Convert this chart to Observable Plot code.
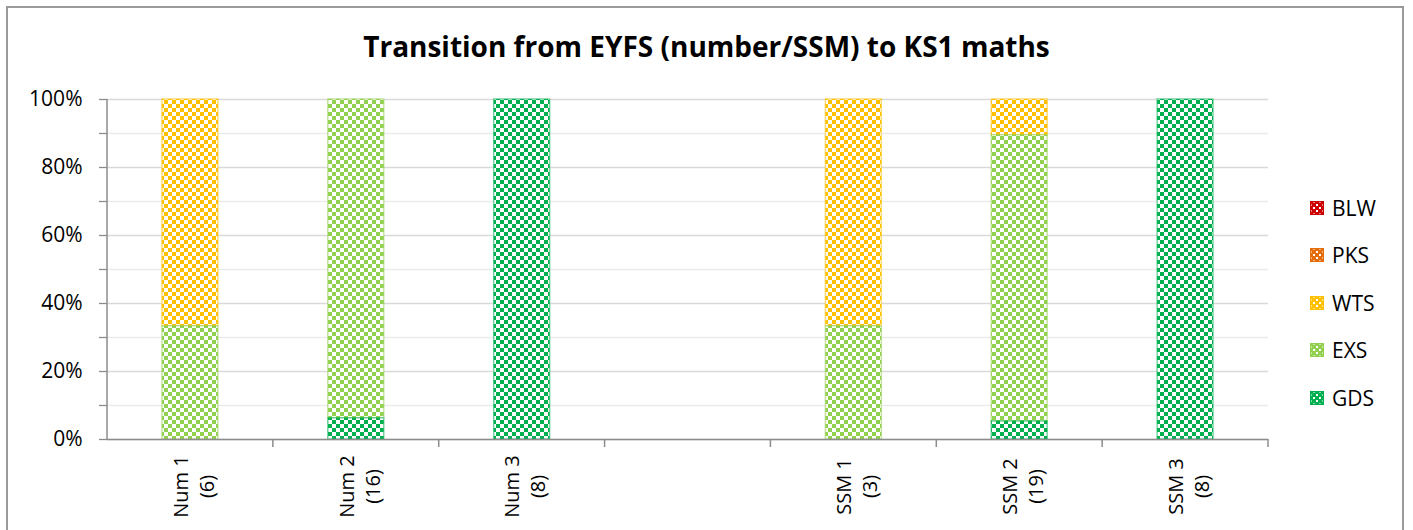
<!DOCTYPE html>
<html><head><meta charset="utf-8">
<script src="https://cdn.jsdelivr.net/npm/d3@7"></script>
<script src="https://cdn.jsdelivr.net/npm/@observablehq/plot@0.6"></script>
<style>
body{margin:0;background:#fff;font-family:"Open Sans",sans-serif;}
#wrap{position:relative;width:1413px;height:530px;overflow:hidden;background:#fff;}
#border{position:absolute;left:6px;top:6px;width:1398px;height:580px;border:2px solid #9a9a9a;box-sizing:border-box;pointer-events:none;}
#title{height:80px;box-sizing:border-box;padding-top:32px;line-height:28px;font-size:28px;font-weight:700;text-align:center;color:#000;}
#legend{position:absolute;left:1310px;top:0;width:100px;height:530px;}
.item{position:absolute;left:0;height:24px;display:flex;align-items:center;white-space:nowrap;font-size:21px;color:#000;}
.item svg{margin-right:8px;}
#defs{position:absolute;width:0;height:0;overflow:hidden;}
</style></head><body>
<div id="wrap">
  <svg id="defs" width="0" height="0"></svg>
  <div id="title">Transition from EYFS (number/SSM) to KS1 maths</div>
  <div id="chart"></div>
  <div id="legend"></div>
  <div id="border"></div>
</div>
<script>
// ---- data ----
const categories = ["Num 1", "Num 2", "Num 3", "gap", "SSM 1", "SSM 2", "SSM 3"];
const categoryLabels = ["Num 1", "Num 2", "Num 3", "", "SSM 1", "SSM 2", "SSM 3"];
const pupilCounts = ["(6)", "(16)", "(8)", "", "(3)", "(19)", "(8)"];
const levels = ["BLW", "PKS", "WTS", "EXS", "GDS"];
const levelColors = ["#CC0000", "#E46C0A", "#FFC000", "#92D050", "#00B050"];
const stackOrder = ["GDS", "EXS", "WTS", "PKS", "BLW"];
const blw = [0, 0, 0, null, 0, 0, 0];
const pks = [0, 0, 0, null, 0, 0, 0];
const wts = [66.7, 0, 0, null, 66.7, 10.5, 0];
const exs = [33.3, 93.75, 0, null, 33.3, 84.2, 0];
const gds = [0, 6.25, 100, null, 0, 5.3, 100];
const yTicks = [0, 20, 40, 60, 80, 100];
const yMinorTicks = [10, 30, 50, 70, 90];

const seriesByLevel = {BLW: blw, PKS: pks, WTS: wts, EXS: exs, GDS: gds};
const colorOf = Object.fromEntries(levels.map((l, i) => [l, levelColors[i]]));

// ---- patterns (checkerboard) ----
const defs = d3.select("#defs").append("defs");
levels.forEach(l => {
  const p = defs.append("pattern").attr("id", "pat-" + l).attr("patternUnits", "userSpaceOnUse")
    .attr("width", 8).attr("height", 8);
  p.append("rect").attr("width", 8).attr("height", 8).attr("fill", colorOf[l]);
  p.append("rect").attr("x", 4).attr("y", 0).attr("width", 4).attr("height", 4).attr("fill", "#fff");
  p.append("rect").attr("x", 0).attr("y", 4).attr("width", 4).attr("height", 4).attr("fill", "#fff");
  const q = defs.append("pattern").attr("id", "sw-" + l).attr("patternUnits", "userSpaceOnUse")
    .attr("width", 6).attr("height", 6);
  q.append("rect").attr("width", 6).attr("height", 6).attr("fill", colorOf[l]);
  q.append("rect").attr("x", 3).attr("y", 0).attr("width", 2).attr("height", 2).attr("fill", "#fff");
  q.append("rect").attr("x", 0).attr("y", 3).attr("width", 2).attr("height", 2).attr("fill", "#fff");
});

// ---- table ----
const table = [];
levels.forEach(l => categories.forEach((c, i) => {
  const v = seriesByLevel[l][i];
  if (v != null && v > 0) table.push({cat: c, level: l, value: v});
}));
const labelData = categories.map((c, i) => ({cat: c, name: categoryLabels[i], count: pupilCounts[i]}))
  .filter(d => d.name !== "");

const axisColor = "#8c8c8c";

const frameLines = (index, scales, values, dims) => {
  const x = scales.x, y = scales.y;
  const bw = x.bandwidth ? x.bandwidth() : 0;
  const c0 = x(categories[0]) + bw / 2, c1 = x(categories[1]) + bw / 2;
  const step = c1 - c0;
  const y0 = y(0), yTop = y(100);
  const left = dims.marginLeft;
  const g = d3.create("svg:g").attr("stroke", axisColor).attr("stroke-width", 1.5).attr("fill", "none");
  g.append("line").attr("x1", left).attr("x2", left).attr("y1", yTop).attr("y2", y0);
  categories.forEach(c => {
    const b = x(c) + bw / 2 + step / 2;
    g.append("line").attr("x1", b).attr("x2", b).attr("y1", y0).attr("y2", y0 + 8);
  });
  return g.node();
};

const chart = Plot.plot({
  width: 1413,
  height: 450,
  marginTop: 19,
  marginBottom: 91,
  marginLeft: 107,
  marginRight: 145,
  style: {fontFamily: "'Open Sans', sans-serif", fontSize: "20px", color: "#000", background: "transparent", overflow: "visible"},
  x: {type: "band", domain: categories, paddingInner: 0.663, paddingOuter: 0.3315, round: false, axis: null},
  y: {domain: [0, 100], axis: null},
  marks: [
    Plot.gridY(yMinorTicks, {stroke: "#ebebeb", strokeOpacity: 1, strokeWidth: 1.3}),
    Plot.gridY(yTicks, {stroke: "#d9d9d9", strokeOpacity: 1, strokeWidth: 1.3}),
    Plot.barY(table, {
      x: "cat", y: "value", z: "level", order: stackOrder,
      fill: d => `url(#pat-${d.level})`,
      stroke: d => colorOf[d.level], strokeWidth: 1.5, strokeOpacity: 0.55
    }),
    Plot.axisY(yTicks, {tickSize: 8, tickPadding: 17, tickFormat: d => d + "%", fontSize: 21,
      stroke: axisColor, strokeWidth: 1.3, fill: "#000", label: null}),
    Plot.axisY(yMinorTicks, {tickSize: 8, tickFormat: () => "", stroke: axisColor, strokeWidth: 1.3, label: null}),
    Plot.ruleY([0], {stroke: axisColor, strokeWidth: 1.5}),
    frameLines,
    Plot.text(labelData, {
      x: "cat", y: () => 0, text: d => d.name + "\n" + d.count,
      rotate: -90, textAnchor: "middle", lineAnchor: "middle", lineHeight: 1.3,
      dy: 47, dx: 2, fontSize: 20, fill: "#000"
    })
  ]
});
document.getElementById("chart").appendChild(chart);

// ---- legend ----
const legendY = [208, 255, 303, 350, 398];
const legend = d3.select("#legend");
levels.forEach((l, i) => {
  const it = legend.append("div").attr("class", "item").style("top", (legendY[i] - 12) + "px");
  const s = it.append("svg").attr("width", 14).attr("height", 14);
  s.append("rect").attr("x", 0.75).attr("y", 0.75).attr("width", 12.5).attr("height", 12.5)
    .attr("fill", `url(#sw-${l})`).attr("stroke", colorOf[l]).attr("stroke-width", 1.5);
  it.append("span").text(l);
});
</script>
</body></html>
